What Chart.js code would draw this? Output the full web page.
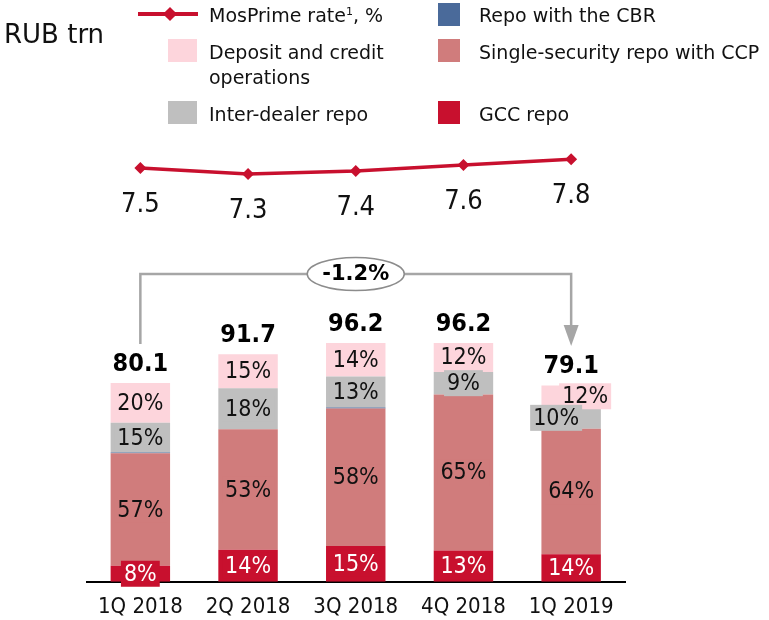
<!DOCTYPE html>
<html>
<head>
<meta charset="utf-8">
<title>Repo market volumes</title>
<script src="https://cdn.jsdelivr.net/npm/chart.js@4.4.1/dist/chart.umd.min.js"></script>
<style>
  body { margin: 0; background: #fff; }
  #wrap { position: relative; width: 769px; height: 620px; font-family: "DejaVu Sans", sans-serif; color: #111; }
  #chart { position: absolute; left: 0; top: 0; }
  .unit { position: absolute; left: 4px; top: 19px; font-size: 26px; line-height: 30px; }
  .lg-text { position: absolute; font-size: 19px; line-height: 25px; white-space: nowrap; }
  .lg-box { position: absolute; height: 23px; }
  .lg-line { position: absolute; left: 138px; top: 12px; width: 60px; height: 4px; }
  .lg-diamond { position: absolute; left: 165px; top: 9px; width: 10px; height: 10px; transform: rotate(45deg); }
  sup { font-size: 11px; line-height: 0; vertical-align: 7px; }
</style>
</head>
<body>
<div id="wrap">
  <canvas id="chart" width="769" height="620"></canvas>
  <div class="unit">RUB trn</div>

  <div class="lg-line" id="lgLine"></div>
  <div class="lg-diamond" id="lgDiamond"></div>
  <div class="lg-text" style="left:209px; top:3px;">MosPrime rate<sup>1</sup>, %</div>

  <div class="lg-box" id="lgDeposit" style="left:168px; top:39px; width:29px;"></div>
  <div class="lg-text" style="left:209px; top:40px;">Deposit and credit<br>operations</div>

  <div class="lg-box" id="lgInter" style="left:168px; top:101px; width:29px;"></div>
  <div class="lg-text" style="left:209px; top:102px;">Inter-dealer repo</div>

  <div class="lg-box" id="lgCbr" style="left:438px; top:3px; width:22px;"></div>
  <div class="lg-text" style="left:479px; top:3px;">Repo with the CBR</div>

  <div class="lg-box" id="lgSingle" style="left:438px; top:39px; width:22px;"></div>
  <div class="lg-text" style="left:479px; top:40px;">Single-security repo with CCP</div>

  <div class="lg-box" id="lgGcc" style="left:438px; top:101px; width:22px;"></div>
  <div class="lg-text" style="left:479px; top:102px;">GCC repo</div>
</div>

<script>
// quarters and total volume, RUB trn
var quarters = ["1Q 2018", "2Q 2018", "3Q 2018", "4Q 2018", "1Q 2019"];
var totals = [80.1, 91.7, 96.2, 96.2, 79.1];

// MosPrime rate, %
var mosPrime = [7.5, 7.3, 7.4, 7.6, 7.8];

// segment shares of the total, %
var gccShare = [8, 14, 15, 13.1, 14];
var singleShare = [56.6, 53, 57.6, 65.4, 64];
var cbrShare = [0.4, 0, 0.4, 0, 0];
var interShare = [15, 18, 13, 9.4, 10];
var depositShare = [20, 15, 14, 12.1, 12];

var colors = {
  rate: "#C8102E",
  gcc: "#C8102E",
  single: "#D07C7C",
  cbr: "#4A6A9A",
  inter: "#BFBFBF",
  deposit: "#FDD5DC",
};

function volumes(shares) {
  return shares.map(function (s, i) {
    return (totals[i] * s) / 100;
  });
}

document.getElementById("lgLine").style.background = colors.rate;
document.getElementById("lgDiamond").style.background = colors.rate;
document.getElementById("lgDeposit").style.background = colors.deposit;
document.getElementById("lgInter").style.background = colors.inter;
document.getElementById("lgCbr").style.background = colors.cbr;
document.getElementById("lgSingle").style.background = colors.single;
document.getElementById("lgGcc").style.background = colors.gcc;

var barShares = [gccShare, singleShare, cbrShare, interShare, depositShare];
var labelColors = ["#fff", "#111", null, "#111", "#111"];

// a couple of labels in the last bar are nudged sideways so they fit
var labelShift = { "3:4": [-15, -1], "4:4": [14, -1] };

var segmentLabels = {
  id: "segmentLabels",
  afterDatasetsDraw: function (chart) {
    var ctx = chart.ctx;
    ctx.save();
    ctx.textAlign = "center";
    ctx.textBaseline = "middle";

    // percentage labels, drawn top segment first
    ctx.font = '23px "DejaVu Sans Condensed"';
    for (var d = barShares.length - 1; d >= 0; d--) {
      if (!labelColors[d]) continue;
      var meta = chart.getDatasetMeta(d);
      meta.data.forEach(function (bar, i) {
        var share = barShares[d][i];
        if (!share) return;
        var text = Math.round(share) + "%";
        var shift = labelShift[d + ":" + i] || [0, 0];
        var cx = bar.x + shift[0];
        var cy = (bar.y + bar.base) / 2 + shift[1];
        var w = ctx.measureText(text).width + 6;
        ctx.fillStyle = chart.data.datasets[d].backgroundColor;
        ctx.fillRect(cx - w / 2, cy - 13, w, 26);
        ctx.fillStyle = labelColors[d];
        ctx.fillText(text, cx, cy + 1);
      });
    }

    // totals above the bars
    ctx.font = 'bold 25px "DejaVu Sans Condensed"';
    ctx.fillStyle = "#000";
    var top = chart.getDatasetMeta(barShares.length - 1);
    top.data.forEach(function (bar, i) {
      ctx.fillText(totals[i].toFixed(1), bar.x, bar.y - 19);
    });

    // rate values under the line
    ctx.font = '27px "DejaVu Sans Condensed"';
    ctx.fillStyle = "#111";
    chart.getDatasetMeta(barShares.length).data.forEach(function (pt, i) {
      ctx.fillText(mosPrime[i].toFixed(1), pt.x, pt.y + 37);
    });
    ctx.restore();
  },
};

// bracket from the first to the last quarter with the change in volume
var changeBracket = {
  id: "changeBracket",
  afterDraw: function (chart) {
    var ctx = chart.ctx;
    var x = chart.scales.x;
    var x0 = x.getPixelForValue(0);
    var x1 = x.getPixelForValue(quarters.length - 1);
    var yTop = 274;
    var change = (totals[totals.length - 1] / totals[0] - 1) * 100;
    var text = change.toFixed(1) + "%";
    var midX = (x0 + x1) / 2;

    ctx.save();
    ctx.strokeStyle = "#A6A6A6";
    ctx.fillStyle = "#A6A6A6";
    ctx.lineWidth = 2.5;
    ctx.beginPath();
    ctx.moveTo(x0, 344);
    ctx.lineTo(x0, yTop);
    ctx.lineTo(x1, yTop);
    ctx.lineTo(x1, 327);
    ctx.stroke();
    ctx.beginPath();
    ctx.moveTo(x1 - 7.5, 325);
    ctx.lineTo(x1 + 7.5, 325);
    ctx.lineTo(x1, 346);
    ctx.closePath();
    ctx.fill();

    ctx.beginPath();
    ctx.ellipse(midX, yTop, 48.5, 16.5, 0, 0, Math.PI * 2);
    ctx.fillStyle = "#fff";
    ctx.fill();
    ctx.lineWidth = 1.5;
    ctx.strokeStyle = "#8C8C8C";
    ctx.stroke();

    ctx.font = 'bold 21px "DejaVu Sans"';
    ctx.fillStyle = "#000";
    ctx.textAlign = "center";
    ctx.textBaseline = "middle";
    ctx.fillText(text, midX, yTop + 1);
    ctx.restore();
  },
};

function barSet(label, shares, color) {
  return {
    type: "bar",
    label: label,
    data: volumes(shares),
    backgroundColor: color,
    borderWidth: 0,
    stack: "volume",
    yAxisID: "y",
    categoryPercentage: 1,
    barPercentage: 0.552,
  };
}

new Chart(document.getElementById("chart").getContext("2d"), {
  type: "bar",
  data: {
    labels: quarters,
    datasets: [
      barSet("GCC repo", gccShare, colors.gcc),
      barSet("Single-security repo with CCP", singleShare, colors.single),
      barSet("Repo with the CBR", cbrShare, colors.cbr),
      barSet("Inter-dealer repo", interShare, colors.inter),
      barSet("Deposit and credit operations", depositShare, colors.deposit),
      {
        type: "line",
        label: "MosPrime rate, %",
        data: mosPrime,
        yAxisID: "y2",
        borderColor: colors.rate,
        backgroundColor: colors.rate,
        borderWidth: 3.5,
        pointStyle: "rectRot",
        pointRadius: 6,
        pointBorderWidth: 0,
        tension: 0,
      },
    ],
  },
  options: {
    responsive: false,
    animation: false,
    layout: { padding: { left: 86.5, right: 144, top: 130, bottom: 0 } },
    plugins: {
      legend: { display: false },
      tooltip: { enabled: false },
    },
    scales: {
      x: {
        stacked: true,
        grid: { display: false, drawTicks: false },
        border: { display: true, color: "#000", width: 2 },
        ticks: {
          color: "#111",
          padding: 12,
          font: { family: "DejaVu Sans Condensed", size: 22 },
        },
        afterFit: function (scale) {
          scale.height = 38.3;
        },
      },
      y: { display: false, stacked: true, min: 0, max: 182.1 },
      y2: { display: false, min: -6.53, max: 8.79 },
    },
  },
  plugins: [segmentLabels, changeBracket],
});
</script>
</body>
</html>
